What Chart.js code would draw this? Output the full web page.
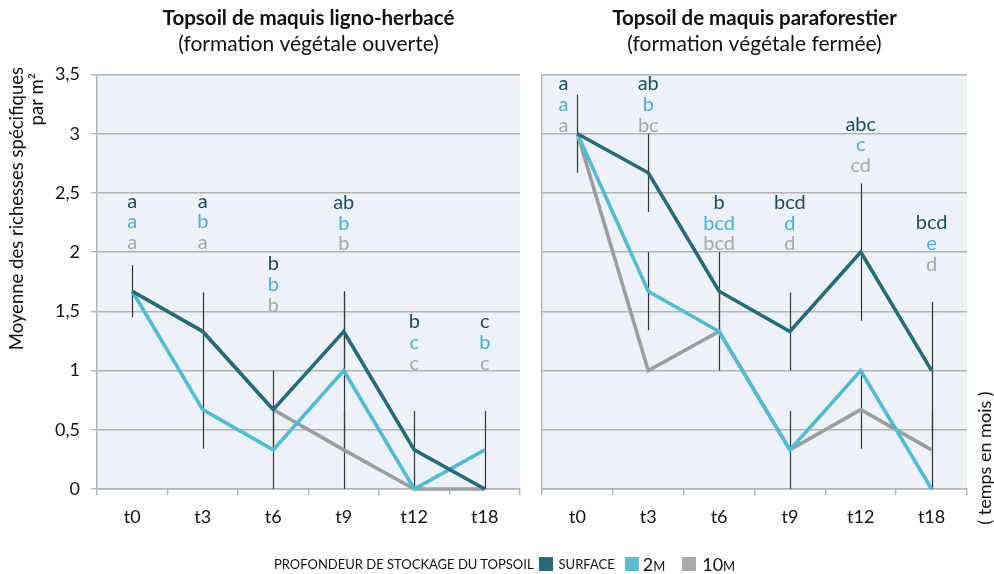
<!DOCTYPE html>
<html lang="fr">
<head>
<meta charset="utf-8">
<title>Richesse spécifique du topsoil</title>
<script src="https://cdn.jsdelivr.net/npm/chart.js@4.4.1/dist/chart.umd.min.js"></script>
<style>
  html, body { margin: 0; padding: 0; background: #fff; }
  body { width: 994px; height: 574px; position: relative; overflow: hidden; font-family: Lato, sans-serif; color: #111; }
  #ouvert { position: absolute; left: 0; top: 0; }
  #ferme { position: absolute; left: 530px; top: 0; }
  #legend { position: absolute; left: 274px; top: 555px; height: 18px; display: flex; align-items: center; font-size: 13px; white-space: nowrap; }
  #legend i { display: inline-block; width: 14px; height: 14px; }
  #legend .big { font-size: 18px; }
</style>
</head>
<body>
<canvas id="ouvert" width="530" height="574"></canvas>
<canvas id="ferme" width="464" height="574"></canvas>
<div id="legend">
  <span>PROFONDEUR DE STOCKAGE DU TOPSOIL</span>
  <i style="background:#2a6a77;margin-left:5px"></i><span style="margin-left:6px">SURFACE</span>
  <i style="background:#58bcd3;margin-left:10px"></i><span style="margin-left:4px"><span class="big">2</span>M</span>
  <i style="background:#aaaaaa;margin-left:17px"></i><span style="margin-left:6px"><span class="big">10</span>M</span>
</div>
<script>
const categories = ['t0', 't3', 't6', 't9', 't12', 't18'];
const seriesNames = ['surface', '2m', '10m'];

// formation végétale ouverte (maquis ligno-herbacé)
const openSurface = [1.67, 1.33, 0.67, 1.33, 0.33, 0];
const open2m = [1.67, 0.67, 0.33, 1.0, 0, 0.33];
const open10m = [1.67, 1.33, 0.67, 0.33, 0, 0];
const openSurfaceErr = [0.22, 0.33, 0.33, 0.33, 0.33, 0];
const open2mErr = [0, 0.33, 0.33, 0.67, 0, 0.33];
const open10mErr = [0, 0, 0, 0.33, 0, 0];
const openSurfaceLetters = ['a', 'a', 'b', 'ab', 'b', 'c'];
const open2mLetters = ['a', 'b', 'b', 'b', 'c', 'b'];
const open10mLetters = ['a', 'a', 'b', 'b', 'c', 'c'];
const openLetterLevel = [2.43, 2.43, 1.9, 2.42, 1.41, 1.41];

// formation végétale fermée (maquis paraforestier)
const closedSurface = [3, 2.67, 1.67, 1.33, 2, 1];
const closed2m = [3, 1.67, 1.33, 0.33, 1, 0];
const closed10m = [3, 1, 1.33, 0.33, 0.67, 0.33];
const closedSurfaceErr = [0.33, 0.33, 0.33, 0.33, 0.58, 0.58];
const closed2mErr = [0, 0.33, 0.33, 0.33, 0, 0];
const closed10mErr = [0, 0, 0, 0, 0.33, 0.33];
const closedSurfaceLetters = ['a', 'ab', 'b', 'bcd', 'abc', 'bcd'];
const closed2mLetters = ['a', 'b', 'bcd', 'd', 'c', 'e'];
const closed10mLetters = ['a', 'bc', 'bcd', 'd', 'cd', 'd'];
const closedLetterLevel = [3.42, 3.42, 2.42, 2.42, 3.08, 2.25];

const yTicks = [0, 0.5, 1, 1.5, 2, 2.5, 3, 3.5];

const lineColors = ['#276a78', '#52bbd2', '#9d9d9d'];
const letterColors = ['#1d4c5b', '#48b0d0', '#a7a7a7'];
const FONT = 'Lato, sans-serif';

// light blue fill behind the plot
const plotBackground = {
  id: 'plotBackground',
  beforeDraw(chart, args, opts) {
    const { ctx, chartArea: a } = chart;
    ctx.save();
    ctx.fillStyle = opts.color;
    ctx.fillRect(a.left, a.top, a.width, a.height);
    ctx.restore();
  }
};

// vertical standard-error bars, one per series and time step
const errorBars = {
  id: 'errorBars',
  beforeDatasetsDraw(chart, args, opts) {
    const { ctx, scales: { x, y } } = chart;
    ctx.save();
    ctx.strokeStyle = opts.color;
    ctx.lineWidth = 1.2;
    chart.data.datasets.forEach(ds => {
      ds.errors.forEach((e, i) => {
        if (!e) return;
        const px = Math.round(x.getPixelForValue(i)) + 0.5;
        ctx.beginPath();
        ctx.moveTo(px, y.getPixelForValue(ds.data[i] + e));
        ctx.lineTo(px, y.getPixelForValue(Math.max(0, ds.data[i] - e)));
        ctx.stroke();
      });
    });
    ctx.restore();
  }
};

// significance letters stacked above each time step
const groupLetters = {
  id: 'groupLetters',
  afterDatasetsDraw(chart, args, opts) {
    const { ctx, scales: { x, y } } = chart;
    ctx.save();
    ctx.font = '20px ' + FONT;
    ctx.textAlign = 'center';
    ctx.textBaseline = 'middle';
    opts.levels.forEach((lvl, i) => {
      const px = x.getPixelForValue(i) + (opts.shift[i] || 0);
      const top = y.getPixelForValue(lvl);
      chart.data.datasets.forEach((ds, k) => {
        ctx.fillStyle = letterColors[k];
        ctx.fillText(ds.letters[i], px, top + k * opts.rowGap);
      });
    });
    ctx.restore();
  }
};

// rotated axis captions
const sideCaptions = {
  id: 'sideCaptions',
  afterDraw(chart, args, opts) {
    const { ctx } = chart;
    opts.items.forEach(it => {
      ctx.save();
      ctx.translate(it.x, it.y);
      ctx.rotate(-Math.PI / 2);
      ctx.font = it.font;
      ctx.fillStyle = '#111';
      ctx.textAlign = it.align;
      ctx.textBaseline = 'middle';
      ctx.fillText(it.text, 0, 0);
      ctx.restore();
    });
  }
};

function makeDatasets(values, errors, letters) {
  return values.map((v, k) => ({
    label: seriesNames[k],
    data: v,
    errors: errors[k],
    letters: letters[k],
    borderColor: lineColors[k],
    backgroundColor: lineColors[k],
    borderWidth: 3.6,
    borderJoinStyle: 'miter',
    pointRadius: 0,
    tension: 0,
    clip: false
  }));
}

function makeChart(canvasId, title, subtitle, datasets, levels, opts) {
  return new Chart(document.getElementById(canvasId), {
    type: 'line',
    data: { labels: categories, datasets },
    plugins: [plotBackground, errorBars, groupLetters, sideCaptions],
    options: {
      responsive: false,
      animation: false,
      events: [],
      layout: { padding: { left: 0, right: opts.padRight, top: 0, bottom: 0 } },
      plugins: {
        legend: { display: false },
        tooltip: { enabled: false },
        title: {
          display: true, text: title, fullSize: false, color: '#111',
          font: { family: FONT, size: 20.5, weight: 'bold' },
          padding: { top: 5.7, bottom: 1.1 }
        },
        subtitle: {
          display: true, text: subtitle, fullSize: false, color: '#111',
          font: { family: FONT, size: 21 },
          padding: { top: 0, bottom: 17.9 }
        },
        plotBackground: { color: '#edf2f9' },
        errorBars: { color: '#333' },
        groupLetters: { levels, rowGap: 20.8, shift: opts.letterShift },
        sideCaptions: { items: opts.captions }
      },
      scales: {
        x: {
          offset: true,
          grid: { offset: true, drawOnChartArea: false, color: '#b3b3b3', lineWidth: 1.4, tickLength: 6 },
          border: { color: '#b3b3b3', width: 1.4 },
          ticks: { color: '#111', font: { family: FONT, size: 18 }, padding: 11 },
          afterFit: s => { s.height = 85; }
        },
        y: {
          min: 0, max: 3.5,
          afterBuildTicks: s => { s.ticks = yTicks.map(v => ({ value: v })); },
          grid: { color: '#b3b3b3', lineWidth: 1.4, tickLength: 6, drawTicks: opts.showY },
          border: { color: '#b3b3b3', width: 1.4 },
          ticks: {
            display: opts.showY, color: '#111', padding: 11,
            font: { family: FONT, size: 18 },
            callback: v => String(v).replace('.', ',')
          },
          afterFit: s => { s.width = opts.yWidth; }
        }
      }
    }
  });
}

makeChart('ouvert', 'Topsoil de maquis ligno-herbacé', '(formation végétale ouverte)',
  makeDatasets([openSurface, open2m, open10m],
               [openSurfaceErr, open2mErr, open10mErr],
               [openSurfaceLetters, open2mLetters, open10mLetters]),
  openLetterLevel,
  {
    padRight: 10, yWidth: 97, showY: true, letterShift: {},
    captions: [
      { text: 'Moyenne des richesses spécifiques', x: 17, y: 67, align: 'right', font: '18.5px ' + FONT },
      { text: 'par m²', x: 37, y: 73, align: 'right', font: '18.5px ' + FONT }
    ]
  });

makeChart('ferme', 'Topsoil de maquis paraforestier', '(formation végétale fermée)',
  makeDatasets([closedSurface, closed2m, closed10m],
               [closedSurfaceErr, closed2mErr, closed10mErr],
               [closedSurfaceLetters, closed2mLetters, closed10mLetters]),
  closedLetterLevel,
  {
    padRight: 27, yWidth: 12, showY: false, letterShift: { 0: -14 },
    captions: [
      { text: '( temps en mois )', x: 455, y: 458, align: 'center', font: '18px ' + FONT }
    ]
  });
</script>
</body>
</html>
